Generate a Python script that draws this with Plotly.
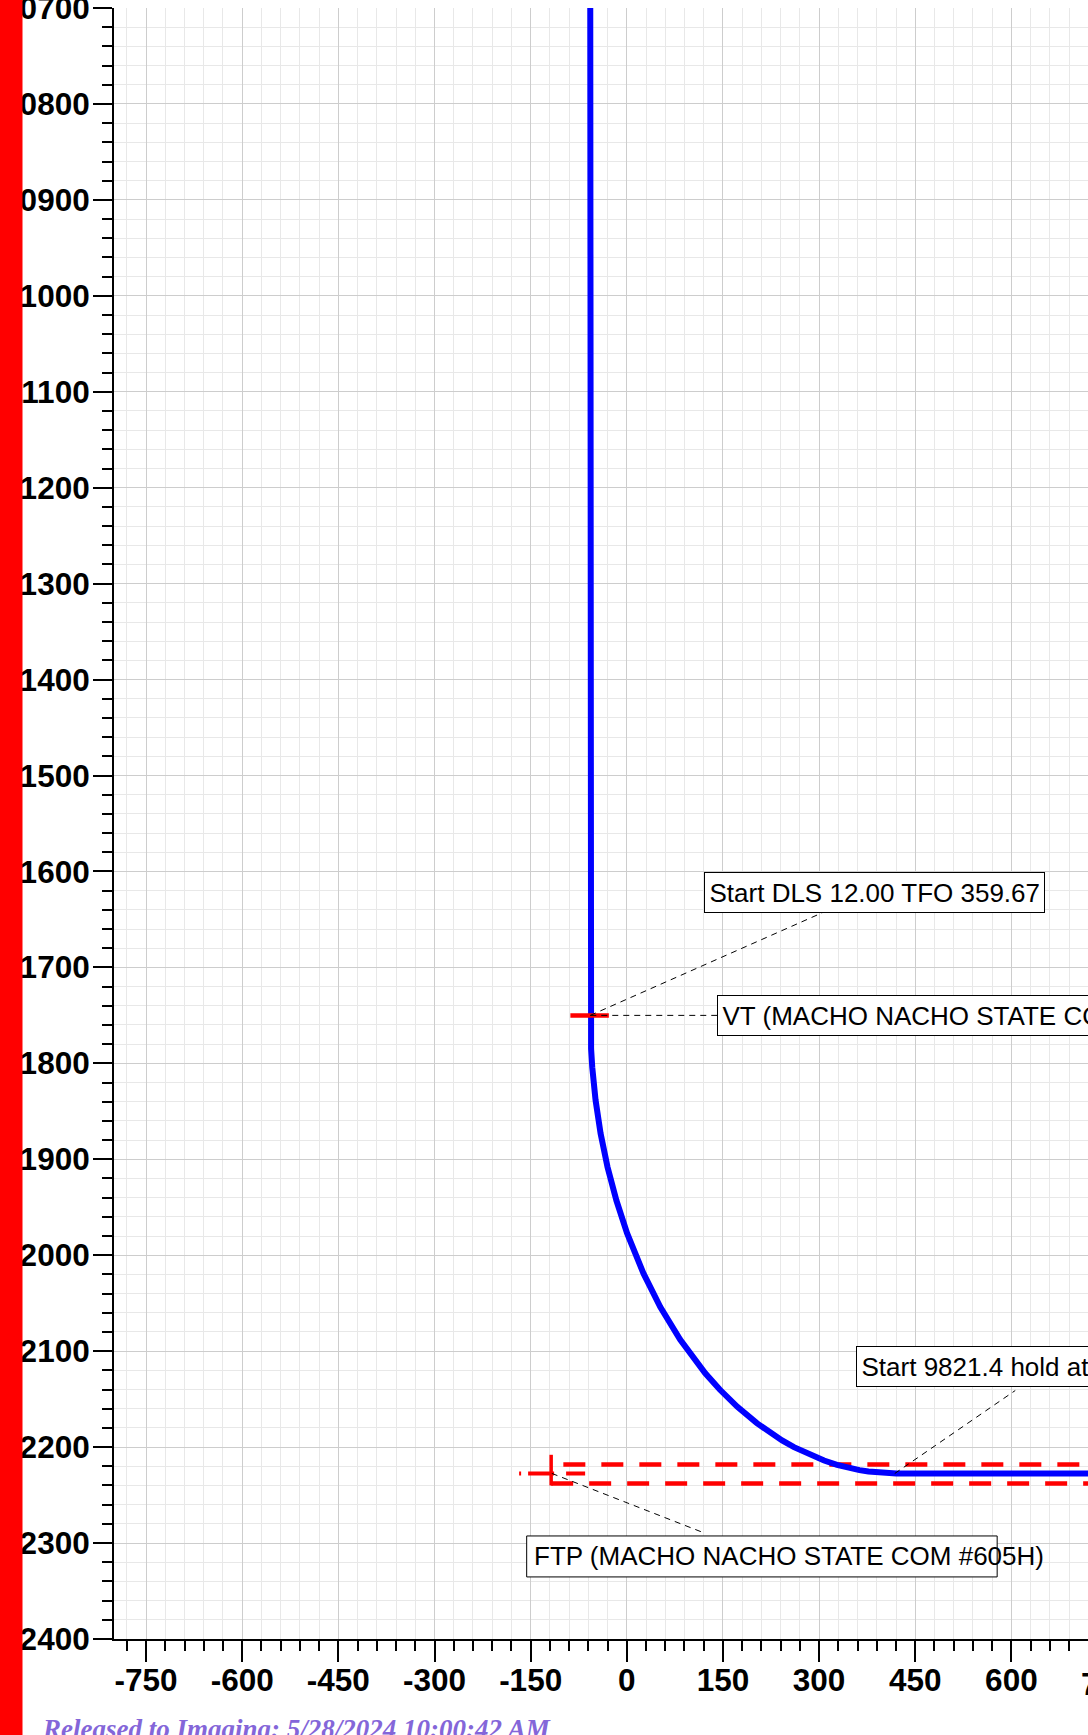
import plotly.graph_objects as go

# wellbore path: vertical section (ft) vs TVD (ft)
wb_vs = [-57, -57, -56.5, -55.7, -53.9, -48.8, -40.9, -30.1, -16.2, 0.4, 26, 52.3, 83.2,
         122.4, 145, 172.5, 202.9, 221.4, 242.3, 260.8, 292.4, 307.8, 328, 342, 363,
         377, 393, 399, 420.5, 900]
wb_tvd = [10700, 11750, 11770, 11785, 11804, 11838, 11873, 11908, 11943, 11977, 12019,
          12054, 12088, 12123, 12140, 12158, 12175, 12184, 12193, 12200, 12210, 12214,
          12218.5, 12221, 12224, 12225.5, 12226.7, 12227, 12227.5, 12227.5]

# red target / window lines
vt_vs = [-88, -28]
vt_tvd = [11750, 11750]
win_top_vs = [-99, 900]
win_top_tvd = [12218, 12218]
win_bot_vs = [-118, 900]
win_bot_tvd = [12238, 12238]
ftp_tick_vs = [-118, -118]
ftp_tick_tvd = [12208, 12240]
ftp_mid_vs = [-168, -65]
ftp_mid_tvd = [12227.5, 12227.5]

x_ticks = [-750, -600, -450, -300, -150, 0, 150, 300, 450, 600]
x_cut_tick = 750  # label half outside the page on the right
y_ticks = [10700, 10800, 10900, 11000, 11100, 11200, 11300, 11400, 11500,
           11600, 11700, 11800, 11900, 12000, 12100, 12200, 12300, 12400]

FIG_W, FIG_H = 1088, 1735
M_L, M_R, M_T, M_B = 114, 0, 7.7, 96
PLOT_W = FIG_W - M_L - M_R
PLOT_H = FIG_H - M_T - M_B
PX_PER_VS = 96.15 / 150
X_RANGE = [-800, -800 + PLOT_W / PX_PER_VS]
Y_RANGE = [12400, 10700]

BOLD = dict(family="Liberation Sans", size=31.5, color="black", weight="bold")
LBL = dict(family="Liberation Sans", size=26, color="black")

fig = go.Figure()


def _red(x, y, dash="solid", width=4):
    fig.add_trace(go.Scatter(x=x, y=y, mode="lines", showlegend=False, hoverinfo="skip",
                             line=dict(color="#ff0000", width=width, dash=dash)))


def _leader(x, y):
    fig.add_trace(go.Scatter(x=x, y=y, mode="lines", showlegend=False, hoverinfo="skip",
                             line=dict(color="black", width=1, dash="6px,5px")))


_red(win_top_vs, win_top_tvd, dash="22px,16px", width=4.5)
_red(win_bot_vs, win_bot_tvd, dash="22px,16px", width=4.5)
_red(ftp_mid_vs, ftp_mid_tvd, dash="2px,7px,26px,12px,21px,100px")
_red(ftp_tick_vs, ftp_tick_tvd, width=3.5)

fig.add_trace(go.Scatter(x=wb_vs, y=wb_tvd, mode="lines", showlegend=False,
                         line=dict(color="#0000ff", width=6)))

_red(vt_vs, vt_tvd, width=4.5)

# leader lines from the labels
_leader([wb_vs[1], 305], [wb_tvd[1], 11643])
_leader([wb_vs[1], 141], [wb_tvd[1], 11750])
_leader([418, 606], [12227.5, 12141])
_leader([-117, 119], [12227.4, 12289])

box = dict(xref="x", yref="y", xanchor="left", showarrow=False, font=LBL,
           bgcolor="white", bordercolor="black", borderwidth=1, borderpad=4.5)
fig.add_annotation(x=121, y=11601, yanchor="top", text="Start DLS 12.00 TFO 359.67", **box)
fig.add_annotation(x=141, y=11750, yanchor="middle", text="VT (MACHO NACHO STATE COM #605H)", **box)
fig.add_annotation(x=358, y=12095, yanchor="top", text="Start 9821.4 hold at 12227.5 TVD", **box)

# FTP label: the box is drawn narrower than its text
fig.add_shape(type="rect", xref="x", yref="y", x0=-156.2, x1=577.8, y0=12292.6, y1=12335.3,
              fillcolor="white", line=dict(color="black", width=1), layer="above")
fig.add_annotation(x=-148, y=12314, xref="x", yref="y", xanchor="left", yanchor="middle",
                   showarrow=False, font=LBL, text="FTP (MACHO NACHO STATE COM #605H)")

# tick label at 750 that only partly fits on the page
fig.add_annotation(xref="paper", yref="paper",
                   x=(x_cut_tick - X_RANGE[0]) / (X_RANGE[1] - X_RANGE[0]), y=0,
                   xanchor="center", yanchor="top", yshift=-25, showarrow=False,
                   text=str(x_cut_tick), font=BOLD)

# red margin bar on the left edge of the page
fig.add_shape(type="rect", xref="paper", yref="paper",
              x0=-(M_L + 5) / PLOT_W, x1=(22.5 - M_L) / PLOT_W,
              y0=-(M_B + 5) / PLOT_H, y1=1 + (M_T + 5) / PLOT_H,
              fillcolor="#ff0000", line=dict(width=0), layer="above")

fig.add_annotation(xref="paper", yref="paper", x=(40 - M_L) / PLOT_W, y=-(1712 - (FIG_H - M_B)) / PLOT_H,
                   xanchor="left", yanchor="top", showarrow=False,
                   text="Released to Imaging: 5/28/2024 10:00:42 AM",
                   font=dict(family="Liberation Serif", size=27, color="#8466d9",
                             style="italic", weight="bold"))

axis_common = dict(
    ticks="outside", tickcolor="black", tickwidth=2, showline=True, linecolor="black",
    linewidth=2, showgrid=True, gridcolor="#cdcdcd", gridwidth=1, zeroline=False,
    tickfont=BOLD, tickmode="array", ticklabeloverflow="allow", automargin=False,
)

fig.update_layout(
    width=FIG_W, height=FIG_H, autosize=False,
    margin=dict(l=M_L, r=M_R, t=M_T, b=M_B, pad=0),
    plot_bgcolor="white", paper_bgcolor="white",
    showlegend=False,
    xaxis=dict(range=X_RANGE, tickvals=x_ticks, ticktext=[str(v) for v in x_ticks], ticklen=21,
               ticklabelstandoff=-9,
               minor=dict(dtick=30, tick0=0, ticks="outside", ticklen=10, tickwidth=1.5,
                          tickcolor="black", showgrid=True, gridcolor="#e8e8e8", gridwidth=1),
               **axis_common),
    yaxis=dict(range=Y_RANGE, tickvals=y_ticks, ticktext=[str(v) for v in y_ticks], ticklen=19,
               ticklabelstandoff=-3,
               minor=dict(dtick=20, tick0=0, ticks="outside", ticklen=10, tickwidth=1.5,
                          tickcolor="black", showgrid=True, gridcolor="#e8e8e8", gridwidth=1),
               **axis_common),
)

fig.write_html("out.html", config={"displayModeBar": False},
               post_script="document.body.style.margin='0';document.body.style.overflow='hidden';")
